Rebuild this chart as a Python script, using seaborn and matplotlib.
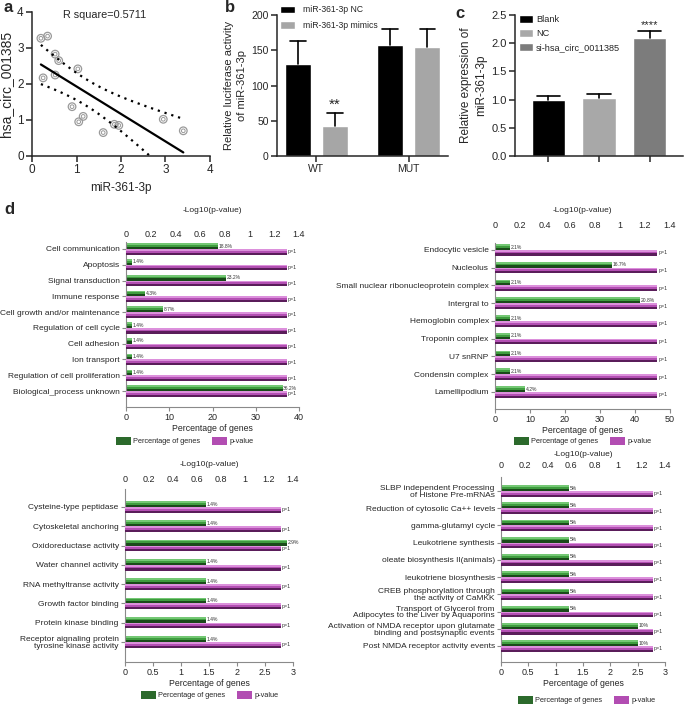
import numpy as np
import pandas as pd
import matplotlib
matplotlib.use('Agg')
import matplotlib.pyplot as plt
import seaborn as sns
from matplotlib.patches import Patch, Rectangle
from matplotlib.ticker import FuncFormatter

# ---------------- data ----------------
# a: correlation
mir_361 = [0.20, 0.35, 0.25, 0.52, 0.60, 0.52, 1.03, 0.90, 1.05, 1.15, 1.60, 1.85, 1.95, 2.95, 3.40]
circ_001385 = [3.27, 3.33, 2.17, 2.83, 2.65, 2.25, 2.42, 1.37, 0.95, 1.10, 0.65, 0.88, 0.85, 1.02, 0.70]

# b: luciferase
luc_groups = ['WT', 'MUT']
luc_series = ['miR-361-3p NC', 'miR-361-3p mimics']
luc_nc = [130, 158]
luc_nc_err = [33, 22]
luc_mim = [43, 154]
luc_mim_err = [18, 26]

# c: qPCR
expr_groups = ['Blank', 'NC', 'si-hsa_circ_0011385']
expr_val = [1.00, 1.03, 2.09]
expr_err = [0.07, 0.07, 0.13]

# d: enrichment panels
d1_terms = ['Cell communication', 'Apoptosis', 'Signal transduction', 'Immune response',
            'Cell growth and/or maintenance', 'Regulation of cell cycle', 'Cell adhesion',
            'Ion transport', 'Regulation of cell proliferation', 'Biological_process unknown']
d1_pct = [21.3, 1.3, 23.2, 4.4, 8.6, 1.4, 1.4, 1.4, 1.4, 36.2]
d1_pct_lab = ['18.8%', '1.4%', '23.2%', '4.3%', '8.7%', '1.4%', '1.4%', '1.4%', '1.4%', '36.2%']

d2_terms = ['Endocytic vesicle', 'Nucleolus', 'Small nuclear ribonucleoprotein complex',
            'Intergral to', 'Hemoglobin complex', 'Troponin complex', 'U7 snRNP',
            'Condensin complex', 'Lamellipodium']
d2_pct = [4.2, 33.3, 4.2, 41.4, 4.2, 4.2, 4.2, 4.2, 8.5]
d2_pct_lab = ['2.1%', '16.7%', '2.1%', '20.8%', '2.1%', '2.1%', '2.1%', '2.1%', '4.2%']

d3_terms = ['Cysteine-type peptidase', 'Cytoskeletal anchoring', 'Oxidoreductase activity',
            'Water channel activity', 'RNA methyltranse activity', 'Growth factor binding',
            'Protein kinase binding', 'Receptor aignaling protein\ntyrosine kinase activity']
d3_pct = [1.45, 1.45, 2.9, 1.45, 1.45, 1.45, 1.45, 1.45]
d3_pct_lab = ['1.4%', '1.4%', '2.9%', '1.4%', '1.4%', '1.4%', '1.4%', '1.4%']

d4_terms = ['SLBP independent Processing\nof Histone Pre-mRNAs', 'Reduction of cytosolic Ca++ levels',
            'gamma-glutamyl cycle', 'Leukotriene synthesis', 'oleate biosynthesis II(animals)',
            'leukotriene biosynthesis', 'CREB phosphorylation through\nthe activity of CaMKK',
            'Transport of Glycerol from\nAdipocytes to the Liver by Aquaporins',
            'Activation of NMDA receptor upon glutamate\nbinding and postsynaptic events',
            'Post NMDA receptor activity events']
d4_pct = [1.25, 1.25, 1.25, 1.25, 1.25, 1.25, 1.25, 1.25, 2.5, 2.5]
d4_pct_lab = ['5%'] * 8 + ['10%'] * 2

# every term has p = 1, drawn at -log10 = 1.3
p_bar = 1.3
p_lab = 'p=1'
series_d = ['Percentage of genes', 'p-value']

# ---------------- style ----------------
sns.set_style('ticks')
plt.rcParams['font.family'] = ['Liberation Sans', 'DejaVu Sans']
plt.rcParams['axes.linewidth'] = 1.1

W, H = 685, 706
fig = plt.figure(figsize=(W / 100, H / 100), dpi=100)


def add_ax(l, t, r, b):
    return fig.add_axes([l / W, 1 - b / H, (r - l) / W, (b - t) / H])


def upper_err(ax, bars, errs, cap):
    for bar, e in zip(bars, errs):
        cx = bar.get_x() + bar.get_width() / 2
        top = bar.get_height()
        hw = bar.get_width() * cap
        ax.plot([cx, cx], [top, top + e], color='black', lw=1.2, zorder=3)
        ax.plot([cx - hw, cx + hw], [top + e, top + e], color='black', lw=1.2, zorder=3)


def letter(x, y, s):
    fig.text(x / W, 1 - y / H, s, fontsize=12, fontweight='bold', va='center', ha='left')


# ---------------- a ----------------
ax = add_ax(32, 12, 210, 156)
sns.scatterplot(x=mir_361, y=circ_001385, s=30, facecolor='none', edgecolor='#9a9a9a',
                linewidth=0.9, ax=ax, zorder=2)
sns.scatterplot(x=mir_361, y=circ_001385, s=7, facecolor='none', edgecolor='#9a9a9a',
                linewidth=0.7, ax=ax, zorder=2)
sns.regplot(x=mir_361, y=circ_001385, scatter=False, ci=None, color='black',
            line_kws={'lw': 1.6}, ax=ax)
xa, ya = np.array(mir_361), np.array(circ_001385)
b1, b0 = np.polyfit(xa, ya, 1)
res = ya - (b0 + b1 * xa)
s_res = np.sqrt(res @ res / (len(xa) - 2))
xs = np.linspace(xa.min(), xa.max(), 100)
se = s_res * np.sqrt(1 / len(xa) + (xs - xa.mean()) ** 2 / ((xa - xa.mean()) ** 2).sum())
for sgn in (1, -1):
    ax.plot(xs, b0 + b1 * xs + sgn * 2.160 * se, color='black', lw=1.6, ls=(0, (1, 2.2)))
ax.set_xlim(0, 4)
ax.set_ylim(0, 4)
ax.set_xticks(range(5))
ax.set_yticks(range(5))
ax.tick_params(labelsize=8.5, length=4, width=1.1, pad=2)
ax.set_xlabel('miR-361-3p', fontsize=8.5, labelpad=4)
ax.set_ylabel('hsa_circ_001385', fontsize=10, labelpad=3)
ax.text(0.7, 3.92, 'R square=0.5711', fontsize=7.8, va='center', ha='left')
sns.despine(ax=ax)
letter(3, 8, 'a')

# ---------------- b ----------------
ax = add_ax(277, 15, 448, 156)
df_b = pd.DataFrame({'group': luc_groups * 2,
                     'treat': [luc_series[0]] * 2 + [luc_series[1]] * 2,
                     'val': luc_nc + luc_mim})
sns.barplot(data=df_b, x='group', y='val', hue='treat', hue_order=luc_series,
            palette=['black', '#a6a6a6'], width=0.8, gap=0.3, saturation=1,
            errorbar=None, ax=ax)
for cont, errs in zip(ax.containers, [luc_nc_err, luc_mim_err]):
    upper_err(ax, cont, errs, 0.3)
wt_mim = ax.containers[1][0]
ax.text(wt_mim.get_x() + wt_mim.get_width() / 2, luc_mim[0] + luc_mim_err[0] + 2, '**',
        ha='center', va='bottom', fontsize=11)
ax.set_ylim(0, 200)
ax.set_yticks(range(0, 201, 50))
ax.set_xlabel('')
ax.set_ylabel('Relative luciferase activity\nof miR-361-3p', fontsize=8, labelpad=3, linespacing=1.35)
ax.tick_params(labelsize=7.5, length=4, width=1.1, pad=2)
h, l = ax.get_legend_handles_labels()
ax.legend(h, l, loc='upper left', bbox_to_anchor=(280 / W, 1 - 5.5 / H), bbox_transform=fig.transFigure,
          frameon=False, fontsize=6.2, handlelength=1.75, handleheight=0.95, handletextpad=0.9,
          labelspacing=0.75, borderpad=0, borderaxespad=0)
sns.despine(ax=ax)
letter(225, 8, 'b')

# ---------------- c ----------------
ax = add_ax(515, 15, 683, 156)
sns.barplot(x=expr_groups, y=expr_val, hue=expr_groups, palette=['black', '#a8a8a8', '#7c7c7c'],
            width=0.65, saturation=1, errorbar=None, legend=True, ax=ax)
for cont, e in zip(ax.containers, expr_err):
    upper_err(ax, cont, [e], 0.35)
si_bar = ax.containers[2][0]
ax.text(si_bar.get_x() + si_bar.get_width() / 2, expr_val[2] + expr_err[2] + 0.02, '****',
        ha='center', va='bottom', fontsize=8)
ax.set_xlim(-0.65, 2.65)
ax.set_ylim(0, 2.5)
ax.set_yticks(np.arange(0, 2.51, 0.5))
ax.yaxis.set_major_formatter(FuncFormatter(lambda v, p: f'{v:.1f}'))
ax.set_xticks(range(3))
ax.set_xticklabels([''] * 3)
ax.set_ylabel('Relative expression of\nmiR-361-3p', fontsize=8.5, labelpad=3, linespacing=1.3)
ax.tick_params(labelsize=8, length=4, width=1.1, pad=2)
h, l = ax.get_legend_handles_labels()
ax.legend(h, l, loc='upper left', bbox_to_anchor=(519 / W, 1 - 15 / H), bbox_transform=fig.transFigure,
          frameon=False, fontsize=6.6, handlelength=1.55, handleheight=0.9, handletextpad=0.3,
          labelspacing=0.55, borderpad=0, borderaxespad=0)
sns.despine(ax=ax)
letter(455, 13, 'c')

# ---------------- d ----------------
G_MID, G_LIGHT, G_DARK = '#3f9c3f', '#74c874', '#1a4a1a'
M_MID, M_LIGHT, M_DARK = '#b34fb3', '#dc90dc', '#5a1d5a'
AX_GREY = '#8a8a8a'


def shade(ax, bars, light, dark):
    for bar in bars:
        w = bar.get_width()
        if w <= 0:
            continue
        x, y, h = bar.get_x(), bar.get_y(), bar.get_height()
        ax.add_patch(Rectangle((x, y), w, h * 0.3, facecolor=light, lw=0, zorder=bar.get_zorder() + 0.1))
        ax.add_patch(Rectangle((x, y + h * 0.62), w, h * 0.38, facecolor=dark, lw=0, zorder=bar.get_zorder() + 0.1))


def go_panel(box, terms, pct, pct_lab, pmax, pticks, pads, tick_y, title_y, leg_xy):
    l, t, r, b = box
    n = len(terms)
    ax = add_ax(l, t, r, b)
    ax2 = ax.twiny()
    long = pd.DataFrame({'term': terms * 2,
                         'series': [series_d[0]] * n + [series_d[1]] * n,
                         'pct': list(pct) + [0] * n,
                         'logp': [0] * n + [p_bar] * n})
    row_px = (b - t) / (n - 1 + pads[0] + pads[1])
    bw = 11.5 / row_px
    sns.barplot(data=long, x='pct', y='term', hue='series', hue_order=series_d,
                palette=[G_MID, M_MID], width=bw, saturation=1, linewidth=0,
                errorbar=None, legend=False, ax=ax)
    sns.barplot(data=long, x='logp', y='term', hue='series', hue_order=series_d,
                palette=[G_MID, M_MID], width=bw, saturation=1, linewidth=0,
                errorbar=None, legend=False, ax=ax2)
    shade(ax, ax.containers[0], G_LIGHT, G_DARK)
    shade(ax2, ax2.containers[1], M_LIGHT, M_DARK)
    for bar, lab in zip(ax.containers[0], pct_lab):
        ax.text(bar.get_width() + pmax * 0.004, bar.get_y() + bar.get_height() / 2, lab,
                fontsize=3.6, va='center', ha='left', color='#333333', zorder=5)
    for bar in ax2.containers[1]:
        ax2.text(bar.get_width() + 0.006, bar.get_y() + bar.get_height() / 2, p_lab,
                 fontsize=3.8, va='center', ha='left', color='#333333', zorder=5)
    ax.set_ylim(n - 1 + pads[1], -pads[0])
    ax.set_xlim(0, pmax)
    ax.set_xticks(pticks)
    ax.xaxis.set_major_formatter(FuncFormatter(lambda v, p: f'{v:g}'))
    ax2.set_xlim(0, 1.4)
    ax2.set_xticks(np.arange(0, 1.41, 0.2))
    ax2.xaxis.set_major_formatter(FuncFormatter(lambda v, p: f'{v:g}'))
    ax.set_ylabel('')
    ax.set_xlabel('Percentage of genes', fontsize=6.3, labelpad=1.5)
    tick_pad = max((t - tick_y - 3.2) / 1.389, 0.5)
    ax2.set_xlabel('-Log10(p-value)', fontsize=6, labelpad=max((tick_y - title_y - 6.5) / 1.389, 0.5))
    ax.tick_params(axis='x', labelsize=6.5, length=3, width=0.8, color=AX_GREY, pad=1.5)
    ax.tick_params(axis='y', labelsize=6.0, length=3, width=0.8, color=AX_GREY, pad=1.5)
    ax2.tick_params(axis='x', labelsize=6.5, length=0, pad=tick_pad)
    for lab in ax.get_yticklabels():
        lab.set_linespacing(0.95)
    for sp in ['top', 'right']:
        ax.spines[sp].set_visible(False)
    for sp in ['left', 'bottom']:
        ax.spines[sp].set_color(AX_GREY)
        ax.spines[sp].set_linewidth(0.8)
    for sp in ax2.spines.values():
        sp.set_visible(False)
    handles = [Patch(facecolor='#2c6a2c', lw=0), Patch(facecolor='#b24db2', lw=0)]
    fig.legend(handles, series_d, loc='center left', bbox_to_anchor=(leg_xy[0] / W, 1 - leg_xy[1] / H),
               bbox_transform=fig.transFigure, ncol=2, frameon=False, fontsize=5.3,
               handlelength=2.05, handleheight=1.27, handletextpad=0.3, columnspacing=1.6,
               borderpad=0, borderaxespad=0)


go_panel((126, 242, 299, 407), d1_terms, d1_pct, d1_pct_lab, 40, range(0, 41, 10),
         (0.44, 1.01), 236, 211, (116, 441))
go_panel((495, 243, 670, 409), d2_terms, d2_pct, d2_pct_lab, 50, range(0, 51, 10),
         (0.39, 0.96), 227, 211, (514, 441))
go_panel((125, 489, 293, 662), d3_terms, d3_pct, d3_pct_lab, 3, np.arange(0, 3.01, 0.5),
         (0.93, 1.04), 481, 465, (141, 695))
go_panel((501, 477, 665, 662), d4_terms, d4_pct, d4_pct_lab, 3, np.arange(0, 3.01, 0.5),
         (0.81, 0.93), 467, 455, (518, 700))
letter(4, 210, 'd')

fig.savefig('out.png', dpi=100)
